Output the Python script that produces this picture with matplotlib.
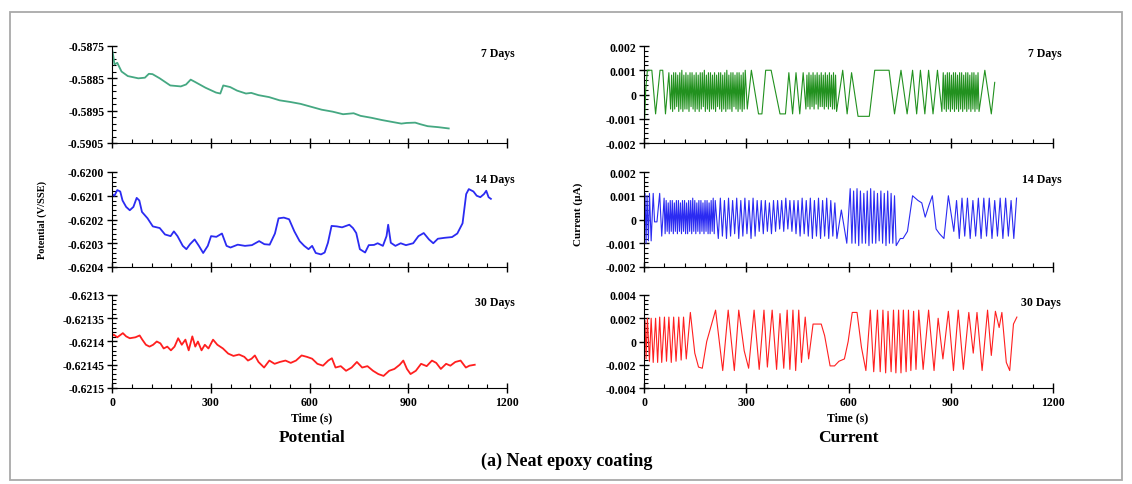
import matplotlib
matplotlib.use("Agg")
import matplotlib.pyplot as plt
from matplotlib.ticker import MultipleLocator, AutoMinorLocator, FixedLocator
from matplotlib.patches import Rectangle

plt.rcParams["font.family"] = ["Liberation Serif", "DejaVu Serif"]
plt.rcParams["font.weight"] = "bold"

# ---- potential, 7 days
pot7_t = [0, 3, 7.5, 16, 29, 48, 80, 100, 112, 123, 145, 177, 209, 225, 239, 252, 284, 316, 329, 338,
          359, 380, 407, 423, 445, 477, 509, 541, 573, 605, 637, 670, 702, 734, 755, 788, 820, 852, 879, 895,
          921, 937, 959, 991, 1023]
pot7_v = [-0.58759, -0.58775, -0.58807, -0.58802, -0.58829, -0.58843, -0.58850, -0.58848, -0.58836, -0.58837,
          -0.58850, -0.58872, -0.58875, -0.58869, -0.58854, -0.58861, -0.58879, -0.58894, -0.58897, -0.58872,
          -0.58877, -0.58888, -0.58897, -0.58895, -0.58902, -0.58908, -0.58918, -0.58923, -0.58929, -0.58938,
          -0.58947, -0.58953, -0.58961, -0.58958, -0.58966, -0.58972, -0.58979, -0.58985, -0.58990, -0.58988,
          -0.58987, -0.58992, -0.58998, -0.59001, -0.59005]

# ---- potential, 14 days
pot14_t = [0, 7.5, 16, 25, 32, 43, 54, 65, 75, 83, 91, 108, 124, 145, 161, 178, 188, 199, 215, 226,
           237, 251, 264, 277, 291, 301, 317, 334, 348, 360, 382, 404, 425, 447, 463, 479, 495, 506, 522, 538,
           554, 570, 584, 597, 608, 619, 635, 646, 656, 667, 683, 699, 721, 732, 742, 753, 769, 780, 796, 807,
           823, 834, 839, 847, 861, 877, 893, 915, 931, 947, 963, 976, 990, 1011, 1033, 1049, 1065, 1076, 1084, 1098,
           1108, 1119, 1130, 1137, 1144, 1151]
pot14_v = [-0.620093, -0.620100, -0.620076, -0.620082, -0.620120, -0.620147, -0.620161, -0.620147, -0.620109, -0.620120,
           -0.620168, -0.620195, -0.620229, -0.620236, -0.620263, -0.620270, -0.620250, -0.620270, -0.620311, -0.620325,
           -0.620304, -0.620284, -0.620311, -0.620341, -0.620311, -0.620270, -0.620273, -0.620259, -0.620311, -0.620318,
           -0.620306, -0.620311, -0.620308, -0.620291, -0.620304, -0.620306, -0.620259, -0.620195, -0.620192, -0.620199,
           -0.620250, -0.620291, -0.620311, -0.620325, -0.620311, -0.620341, -0.620347, -0.620339, -0.620298, -0.620227,
           -0.620229, -0.620233, -0.620222, -0.620236, -0.620257, -0.620325, -0.620339, -0.620308, -0.620307, -0.620300,
           -0.620311, -0.620270, -0.620222, -0.620298, -0.620311, -0.620300, -0.620308, -0.620300, -0.620270, -0.620257,
           -0.620284, -0.620300, -0.620281, -0.620277, -0.620274, -0.620259, -0.620216, -0.620093, -0.620072, -0.620082,
           -0.620100, -0.620106, -0.620093, -0.620079, -0.620106, -0.620113]

# ---- potential, 30 days
pot30_t = [0, 5, 16, 33, 43, 54, 71, 84, 92, 103, 114, 125, 136, 147, 157, 168, 179, 190, 201, 212,
           223, 233, 244, 253, 261, 272, 282, 293, 307, 320, 337, 353, 369, 386, 402, 413, 424, 434, 445, 462,
           478, 494, 510, 527, 543, 559, 576, 592, 608, 624, 641, 657, 668, 679, 695, 711, 728, 744, 760, 776,
           793, 809, 825, 842, 858, 874, 885, 896, 907, 923, 939, 956, 972, 985, 999, 1015, 1028, 1043, 1059, 1075,
           1086, 1102]
pot30_v = [-0.621389, -0.621385, -0.621391, -0.621382, -0.621389, -0.621393, -0.621391, -0.621387, -0.621396, -0.621407,
           -0.621411, -0.621407, -0.621400, -0.621404, -0.621415, -0.621411, -0.621419, -0.621411, -0.621393, -0.621407,
           -0.621396, -0.621419, -0.621389, -0.621411, -0.621400, -0.621419, -0.621407, -0.621415, -0.621396, -0.621407,
           -0.621415, -0.621426, -0.621431, -0.621428, -0.621433, -0.621441, -0.621437, -0.621430, -0.621444, -0.621456,
           -0.621441, -0.621448, -0.621444, -0.621441, -0.621446, -0.621441, -0.621430, -0.621433, -0.621437, -0.621448,
           -0.621452, -0.621441, -0.621436, -0.621456, -0.621453, -0.621463, -0.621456, -0.621444, -0.621456, -0.621453,
           -0.621463, -0.621470, -0.621474, -0.621463, -0.621459, -0.621450, -0.621441, -0.621459, -0.621470, -0.621463,
           -0.621448, -0.621453, -0.621441, -0.621446, -0.621459, -0.621448, -0.621452, -0.621444, -0.621441, -0.621456,
           -0.621452, -0.621450]

# ---- current, 7 days (turning points)
cur7_t = [0, 2, 5, 10, 23, 34, 47, 55, 63, 73,
          78, 81, 84, 87, 90, 93, 96, 99, 102, 105, 108, 111, 114, 117, 120, 123, 126, 129, 132, 135,
          138, 141, 144, 147, 150, 153, 156, 159, 162, 165, 168, 171, 174, 177, 180, 183, 186, 189, 192, 195,
          198, 201, 204, 207, 210, 213, 216, 219, 222, 225, 228, 231, 234, 237, 240, 243, 246, 249, 252, 255,
          258, 261, 264, 267, 270, 273, 276, 279, 282, 285, 288, 291, 294, 297,
          303, 315, 336, 346, 357, 373, 399, 415, 425, 436, 446, 457, 467, 475,
          478, 481, 484, 487, 490, 493, 496, 499, 502, 505, 508, 511, 514, 517, 520, 523, 526, 529, 532, 535,
          538, 541, 544, 547, 550, 553, 556, 559, 562, 565,
          583, 596, 609, 628, 661, 677, 719, 735, 754, 772, 788, 800, 811, 824, 835, 848, 861, 874,
          878, 881, 884, 887, 890, 893, 896, 899, 902, 905, 908, 911, 914, 917, 920, 923, 926, 929, 932, 935,
          938, 941, 944, 947, 950, 953, 956, 959, 962, 965, 968, 971, 974, 977, 980, 983,
          1000, 1019, 1029]
cur7_v = [-0.0002, -0.0010, 0.0002, 0.0010, 0.0010, -0.0008, 0.0010, 0.0010, -0.0008, 0.0009,
          -0.0006, 0.0008, -0.0007, 0.0009, -0.0006, 0.0009, -0.0005, 0.0008, -0.0007, 0.0009,
          -0.0006, 0.0010, -0.0007, 0.0008, -0.0006, 0.0009, -0.0006, 0.0008, -0.0007, 0.0009,
          -0.0005, 0.0009, -0.0006, 0.0008, -0.0007, 0.0009, -0.0006, 0.0008, -0.0007, 0.0009,
          -0.0006, 0.0009, -0.0005, 0.0010, -0.0007, 0.0008, -0.0006, 0.0009, -0.0007, 0.0009,
          -0.0006, 0.0008, -0.0006, 0.0009, -0.0007, 0.0008, -0.0005, 0.0009, -0.0006, 0.0009,
          -0.0007, 0.0008, -0.0006, 0.0009, -0.0007, 0.0010, -0.0006, 0.0008, -0.0006, 0.0009,
          -0.0007, 0.0009, -0.0005, 0.0008, -0.0006, 0.0009, -0.0007, 0.0009, -0.0006, 0.0008,
          -0.0007, 0.0009, -0.0006, 0.0010,
          -0.0006, 0.0010, -0.0008, -0.0008, 0.0010, 0.0010, -0.0008, -0.0008, 0.0009, -0.0008, 0.0009, -0.0008,
          0.0009, -0.0006,
          0.0008, -0.0005, 0.0009, -0.0006, 0.0008, -0.0005, 0.0009, -0.0006, 0.0008, -0.0004,
          0.0009, -0.0006, 0.0008, -0.0005, 0.0009, -0.0005, 0.0008, -0.0006, 0.0009, -0.0005,
          0.0008, -0.0006, 0.0009, -0.0005, 0.0008, -0.0006, 0.0009, -0.0006, 0.0008, -0.0007,
          0.0010, -0.0008, 0.0009, -0.0009, -0.0009, 0.0010, 0.0010, -0.0008, 0.0010, -0.0008, 0.0010, -0.0008,
          0.0010, -0.0008, 0.0010, -0.0008, 0.0010, -0.0007,
          0.0009, -0.0006, 0.0008, -0.0007, 0.0009, -0.0006, 0.0009, -0.0007, 0.0008, -0.0006,
          0.0009, -0.0007, 0.0009, -0.0006, 0.0008, -0.0007, 0.0009, -0.0006, 0.0009, -0.0007,
          0.0008, -0.0006, 0.0009, -0.0007, 0.0009, -0.0006, 0.0008, -0.0007, 0.0009, -0.0006,
          0.0009, -0.0007, 0.0008, -0.0006, 0.0009, -0.0007,
          0.0010, -0.0008, 0.0005]

# ---- current, 14 days (turning points)
cur14_t = [0, 3, 6, 9, 13, 16, 21, 27, 31, 38, 46, 52, 59,
           62, 65, 68, 71, 74, 77, 80, 83, 86, 89, 92, 95, 98, 101, 104, 107, 110, 113, 116, 119,
           122, 125, 128, 131, 134, 137, 140, 143, 146, 149, 152, 155, 158, 161, 164, 167, 170, 173, 176, 179,
           182, 185, 188, 191, 194, 197, 200, 203, 206, 209,
           218, 224, 230, 236, 242, 248, 254, 260, 266, 272, 278, 284, 290, 296, 302, 308, 314, 320, 326, 332,
           338, 344, 350, 356, 362, 368, 374, 380, 386, 392, 398, 404, 410, 416, 422, 428, 434, 440, 446, 452,
           458, 464, 470, 476, 482, 488, 494, 500, 506, 512, 518, 524, 530, 536, 542, 548, 554, 560, 566,
           579, 595,
           605, 610, 615, 620, 625, 630, 635, 640, 645, 650, 655, 660, 665, 670, 675, 680, 685, 690, 695, 700,
           705, 710, 715, 720, 725, 730, 735, 740,
           752, 760, 773, 788, 804, 815, 825, 836, 846, 857, 867, 880, 893, 909,
           917, 925, 933, 941, 949, 957, 965, 973, 981, 989, 997, 1005, 1013, 1021, 1029, 1037, 1045, 1053,
           1061, 1069, 1077, 1085, 1093]
cur14_v = [0.0000, 0.0011, -0.0010, 0.0010, -0.0009, 0.0011, -0.0009, 0.0011, -0.0001, -0.0001, 0.0011, -0.0007, 0.0009,
           -0.0006, 0.0008, -0.0005, 0.0007, -0.0006, 0.0008, -0.0005, 0.0008, -0.0006, 0.0007,
           -0.0005, 0.0008, -0.0006, 0.0008, -0.0005, 0.0007, -0.0006, 0.0008, -0.0005, 0.0008,
           -0.0006, 0.0007, -0.0006, 0.0008, -0.0005, 0.0008, -0.0006, 0.0009, -0.0005, 0.0008,
           -0.0006, 0.0007, -0.0005, 0.0008, -0.0006, 0.0008, -0.0005, 0.0007, -0.0006, 0.0008,
           -0.0005, 0.0008, -0.0006, 0.0007, -0.0006, 0.0008, -0.0005, 0.0009, -0.0006, 0.0008,
           -0.0008, 0.0009, -0.0007, 0.0008, -0.0008, 0.0009, -0.0007, 0.0008, -0.0006, 0.0009,
           -0.0008, 0.0008, -0.0007, 0.0009, -0.0006, 0.0008, -0.0008, 0.0009, -0.0007, 0.0008,
           -0.0005, 0.0008, -0.0006, 0.0008, -0.0005, 0.0007, -0.0006, 0.0008, -0.0005, 0.0008,
           -0.0004, 0.0008, -0.0005, 0.0009, -0.0004, 0.0008, -0.0005, 0.0008, -0.0006, 0.0008,
           -0.0007, 0.0009, -0.0006, 0.0008, -0.0007, 0.0009, -0.0008, 0.0008, -0.0007, 0.0009,
           -0.0008, 0.0008, -0.0007, 0.0009, -0.0008, 0.0008, -0.0007, 0.0007, -0.0008,
           0.0004, -0.0010,
           0.0013, -0.0010, 0.0012, -0.0010, 0.0013, -0.0011, 0.0012, -0.0010, 0.0011, -0.0010, 0.0012, -0.0011,
           0.0013, -0.0010, 0.0012, -0.0010, 0.0011, -0.0009, 0.0012, -0.0010, 0.0011, -0.0011, 0.0012, -0.0010,
           0.0011, -0.0010, 0.0010, -0.0011,
           -0.0008, -0.0008, -0.0005, 0.0010, 0.0008, 0.0007, 0.0001, 0.0006, 0.0010, -0.0004, -0.0006, -0.0008,
           0.0010, -0.0005,
           0.0008, -0.0008, 0.0009, -0.0007, 0.0009, -0.0008, 0.0008, -0.0007, 0.0009, -0.0008, 0.0009, -0.0007,
           0.0009, -0.0008, 0.0008, -0.0007, 0.0009, -0.0008, 0.0009, -0.0007, 0.0008, -0.0008, 0.0009]

# ---- current, 30 days (turning points)
cur30_t = [0, 3, 6, 10, 16, 21, 27, 34, 40, 46, 52, 60, 66, 73, 80, 87, 94, 102, 109, 116,
           124, 136, 149, 160, 171, 184, 210, 231, 247, 265, 278, 294, 307, 323, 338, 352, 362, 376, 389, 399,
           410, 420, 428, 437, 445, 454, 462, 473, 483, 496, 520, 530, 546, 559, 572, 588, 599, 611, 625, 638,
           651, 664, 674, 685, 693, 701, 709, 716, 725, 732, 739, 747, 754, 761, 769, 776, 783, 791, 798, 806,
           819, 835, 851, 863, 877, 893, 908, 922, 937, 953, 966, 977, 992, 1008, 1019, 1031, 1042, 1050, 1063, 1073,
           1084, 1094]
cur30_v = [0.0000, 0.0018, -0.0015, 0.0020, -0.0017, 0.0020, -0.0018, 0.0020, -0.0018, 0.0021,
           -0.0018, 0.0021, -0.0017, 0.0021, -0.0018, 0.0021, -0.0017, 0.0021, -0.0016, 0.0021,
           -0.0015, 0.0025, -0.0010, -0.0022, -0.0023, 0.0000, 0.0027, -0.0025, 0.0027, -0.0025,
           0.0027, -0.0008, -0.0023, 0.0027, -0.0024, 0.0027, -0.0022, 0.0027, -0.0024, 0.0024,
           -0.0023, 0.0027, -0.0024, 0.0027, -0.0025, 0.0027, -0.0018, 0.0021, -0.0015, 0.0015,
           0.0015, 0.0005, -0.0021, -0.0021, -0.0017, -0.0015, 0.0000, 0.0025, 0.0025, -0.0005,
           -0.0025, 0.0027, -0.0026, 0.0027, -0.0026, 0.0027, -0.0027, 0.0026, -0.0026, 0.0027,
           -0.0027, 0.0027, -0.0027, 0.0027, -0.0026, 0.0027, -0.0025, 0.0026, -0.0024, 0.0027,
           -0.0024, 0.0027, -0.0025, 0.0020, -0.0015, 0.0026, -0.0025, 0.0027, -0.0024, 0.0025,
           -0.0010, 0.0025, -0.0025, 0.0027, -0.0012, 0.0026, 0.0012, 0.0025, -0.0018, -0.0025,
           0.0015, 0.0021]

days = ["7 Days", "14 Days", "30 Days"]
pot_ticks = [[-0.5905, -0.5895, -0.5885, -0.5875],
             [-0.6204, -0.6203, -0.6202, -0.6201, -0.6200],
             [-0.6215, -0.62145, -0.6214, -0.62135, -0.6213]]
pot_labels = [["-0.5905", "-0.5895", "-0.5885", "-0.5875"],
              ["-0.6204", "-0.6203", "-0.6202", "-0.6201", "-0.6200"],
              ["-0.6215", "-0.62145", "-0.6214", "-0.62135", "-0.6213"]]
cur_ticks = [[-0.002, -0.001, 0, 0.001, 0.002],
             [-0.002, -0.001, 0, 0.001, 0.002],
             [-0.004, -0.002, 0, 0.002, 0.004]]
cur_labels = [["-0.002", "-0.001", "0", "0.001", "0.002"],
              ["-0.002", "-0.001", "0", "0.001", "0.002"],
              ["-0.004", "-0.002", "0", "0.002", "0.004"]]
x_ticks = [0, 300, 600, 900, 1200]

pot_colors = ["#45a882", "#2b2bf2", "#ff1f1f"]
cur_colors = ["#22911f", "#2b2bf2", "#ff1f1f"]

W, H = 1132, 485
fig = plt.figure(figsize=(W / 100, H / 100), dpi=100)

# rows in pixels (top, bottom)
rows = [(47, 144), (173, 268), (296, 389)]
cols = [(112, 507), (644, 1053)]


def make_ax(col, row):
    x0, x1 = cols[col]
    y0, y1 = rows[row]
    return fig.add_axes([x0 / W, 1 - y1 / H, (x1 - x0) / W, (y1 - y0) / H])


def style(ax, ticks, labels, bottom):
    ax.set_xlim(0, 1200)
    ax.set_ylim(ticks[0], ticks[-1])
    ax.spines["top"].set_visible(False)
    ax.spines["right"].set_visible(False)
    ax.xaxis.set_major_locator(FixedLocator(x_ticks))
    ax.xaxis.set_minor_locator(MultipleLocator(60))
    ax.yaxis.set_major_locator(FixedLocator(ticks))
    ax.yaxis.set_minor_locator(AutoMinorLocator(5))
    ax.set_yticklabels(labels)
    if bottom:
        ax.set_xticklabels([str(v) for v in x_ticks])
    else:
        ax.set_xticklabels([])
    ax.tick_params(which="major", direction="inout", length=7, width=1, labelsize=8.5, pad=2)
    ax.tick_params(which="minor", direction="in", length=3, width=0.8)
    ax.patch.set_alpha(0)


pots = [(pot7_t, pot7_v), (pot14_t, pot14_v), (pot30_t, pot30_v)]
curs = [(cur7_t, cur7_v), (cur14_t, cur14_v), (cur30_t, cur30_v)]

for i in range(3):
    ax = make_ax(0, i)
    ax.plot(pots[i][0], pots[i][1], color=pot_colors[i], lw=1.3)
    style(ax, pot_ticks[i], pot_labels[i], i == 2)
    ax.text(1.02, 0.93, days[i], transform=ax.transAxes, ha="right", va="center", fontsize=8.5)

    ax = make_ax(1, i)
    ax.plot(curs[i][0], curs[i][1], color=cur_colors[i], lw=0.8)
    style(ax, cur_ticks[i], cur_labels[i], i == 2)
    ax.text(1.02, 0.93, days[i], transform=ax.transAxes, ha="right", va="center", fontsize=8.5)

fig.text(42 / W, 1 - 220 / H, "Potential (V/SSE)", rotation=90, ha="center", va="center", fontsize=7.5)
fig.text(578 / W, 1 - 214 / H, "Current (\u00b5A)", rotation=90, ha="center", va="center", fontsize=8)
fig.text(312 / W, 1 - 418 / H, "Time (s)", ha="center", va="center", fontsize=8.5)
fig.text(848 / W, 1 - 418 / H, "Time (s)", ha="center", va="center", fontsize=8.5)
fig.text(312 / W, 1 - 438 / H, "Potential", ha="center", va="center", fontsize=12.5)
fig.text(848 / W, 1 - 438 / H, "Current", ha="center", va="center", fontsize=12.5)
fig.text(567 / W, 1 - 461 / H, "(a) Neat epoxy coating", ha="center", va="center", fontsize=13)

# frame of the screenshot
fig.patches.append(Rectangle((10 / W, 1 - 481 / H), 1112 / W, 468 / H, transform=fig.transFigure,
                             fill=False, edgecolor="#a9a9a9", lw=1.3))

fig.savefig("out.png", dpi=100)
